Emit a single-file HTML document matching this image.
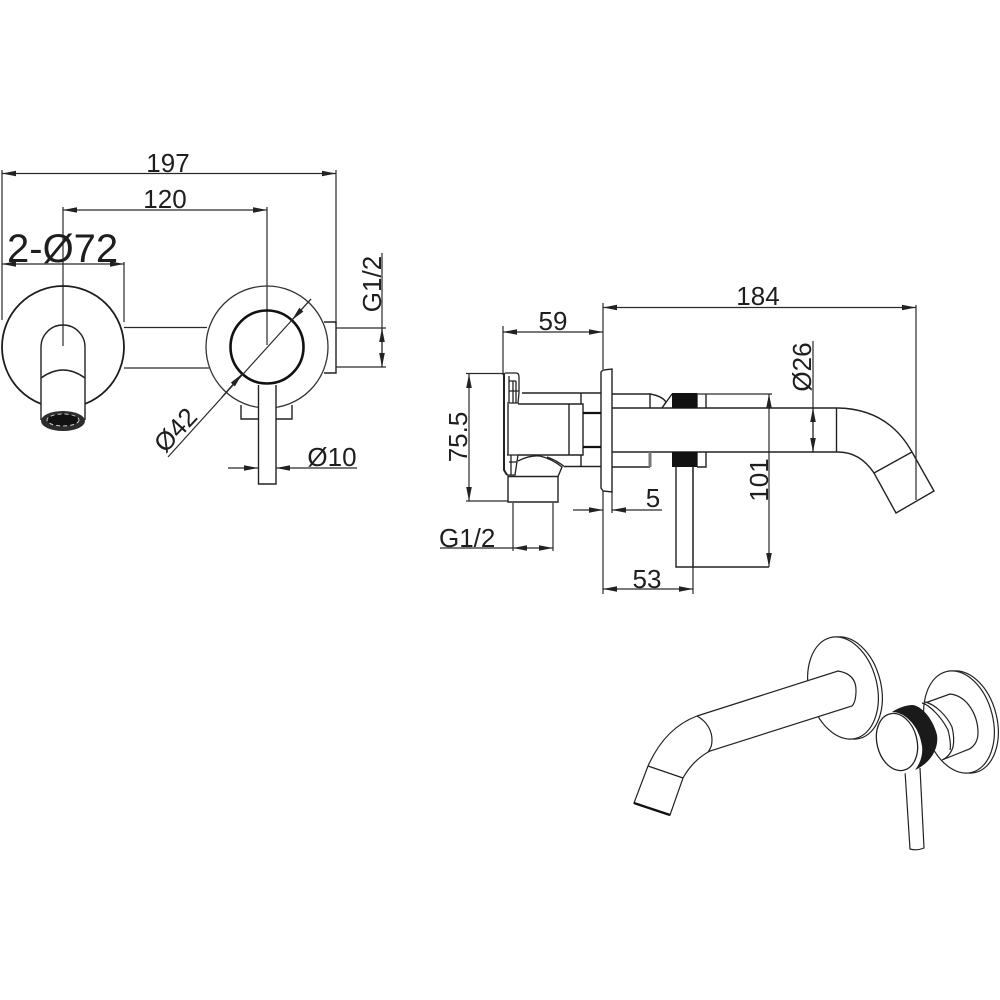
<!DOCTYPE html>
<html><head><meta charset="utf-8"><style>
html,body{margin:0;padding:0;background:#fff}
svg{display:block}
text{font-family:"Liberation Sans",sans-serif;fill:#1e1e1e}
.l{fill:none;stroke:#2a2a2a;stroke-width:1.2}
.m{fill:none;stroke:#222;stroke-width:1.4}
.w{fill:#fff;stroke:#222;stroke-width:1.4}
</style></head><body>
<svg width="1000" height="1000" viewBox="0 0 1000 1000" xmlns="http://www.w3.org/2000/svg">
<defs>
<marker id="a" viewBox="0 0 14 6" refX="14" refY="3" markerWidth="14" markerHeight="6" markerUnits="userSpaceOnUse" orient="auto-start-reverse"><path d="M0 0.2L14 3L0 5.800z" fill="#222"/></marker>
</defs>

<!-- LEFT VIEW -->
<g class="l">
<path d="M2 170V320M336 170V325M63 207V345M267 207V345M124 262V322M382 253V367M336 328H386M336 367H386"/>
<path d="M2 173.500H336" marker-start="url(#a)" marker-end="url(#a)"/>
<path d="M63 210H267" marker-start="url(#a)" marker-end="url(#a)"/>
<path d="M2 264H124" marker-start="url(#a)" marker-end="url(#a)"/>
<path d="M382 328V367" marker-start="url(#a)" marker-end="url(#a)"/>
<path d="M124 327.500H207M124 368H209"/>
</g>
<circle cx="63" cy="347" r="61" fill="none" stroke="#1c1c1c" stroke-width="1.800"/>
<circle cx="267" cy="347" r="61" fill="none" stroke="#333" stroke-width="1.300"/>
<circle cx="267" cy="347" r="36.500" fill="none" stroke="#111" stroke-width="2.600"/>
<path d="M324 322H336V373H324" class="m"/>
<path d="M41 420V347A22 22 0 0 1 85 347V420" class="w"/>
<path d="M63 325V346" class="l"/>
<path d="M41 378Q63 362 85 378" class="m"/>
<ellipse cx="63" cy="421" rx="22" ry="10" fill="#2c2c2c"/>
<ellipse cx="63" cy="420" rx="16" ry="6" fill="#111" stroke="#ccc" stroke-width="1" stroke-dasharray="4 3"/>
<path d="M241 405V419H292V405" class="m"/>
<path d="M258.500 385V484H276V385" class="w"/>
<path d="M168 457L311 299" class="l"/>
<path d="M311 299L292 320" class="l" marker-end="url(#a)"/>
<path d="M222 397L242 374" class="l" marker-end="url(#a)"/>
<path d="M228 468H258" class="l" marker-end="url(#a)"/>
<path d="M357 468H276" class="l" marker-end="url(#a)"/>
<text x="168" y="172" font-size="26" text-anchor="middle">197</text>
<text x="165" y="208" font-size="26" text-anchor="middle">120</text>
<text x="7" y="262" font-size="40">2-Ø72</text>
<text x="332" y="466" font-size="26" text-anchor="middle">Ø10</text>
<text transform="translate(182 436) rotate(-47)" font-size="26" text-anchor="middle">Ø42</text>
<text transform="translate(381 284) rotate(-90)" font-size="26" text-anchor="middle">G1/2</text>

<!-- SIDE VIEW DIMENSIONS -->
<g class="l">
<path d="M503 326V375M603 303V369M603 491V594M916 305V500M612 491V513M693 467V594M513 503V551M553 503V551M466 373.500H505M466 501H508M813 341V452M772 394H697"/>
<path d="M603 307.500H916" marker-start="url(#a)" marker-end="url(#a)"/>
<path d="M503 332H603" marker-start="url(#a)" marker-end="url(#a)"/>
<path d="M469 374V501" marker-start="url(#a)" marker-end="url(#a)"/>
<path d="M769 394V567" marker-start="url(#a)" marker-end="url(#a)"/>
<path d="M813 408V452" marker-start="url(#a)" marker-end="url(#a)"/>
<path d="M603 589H693" marker-start="url(#a)" marker-end="url(#a)"/>
<path d="M573 510H603" marker-end="url(#a)"/>
<path d="M662 510H612" marker-end="url(#a)"/>
<path d="M440 548H513"/>
<path d="M513 548H553" marker-start="url(#a)" marker-end="url(#a)"/>
</g>
<text x="758" y="305" font-size="26" text-anchor="middle">184</text>
<text x="553" y="330" font-size="26" text-anchor="middle">59</text>
<text x="647" y="588" font-size="26" text-anchor="middle">53</text>
<text x="653" y="507" font-size="26" text-anchor="middle">5</text>
<text x="439" y="547" font-size="26">G1/2</text>
<text transform="translate(467 437) rotate(-90)" font-size="26" text-anchor="middle">75.5</text>
<text transform="translate(768 480) rotate(-90)" font-size="26" text-anchor="middle">101</text>
<text transform="translate(811 367) rotate(-90)" font-size="26" text-anchor="middle">Ø26</text>

<!-- SIDE VIEW BODY -->
<g class="m">
<path d="M601 372L603 370L612 369V492L603 491L601 488Z"/>
<path d="M612 408H838M612 452H838M836.500 408V452"/>
<path d="M612 394H650V408M612 467H650"/>
<path d="M650 394Q662 396 666 402L662 408M672 394L662 408M697 394V408M706 394V408"/>
<path d="M697 467H706V452M697 452V467"/>
<path d="M838 408Q888 409 912 452L934 491L896 513L874 473Q860 452 838 452M874 473L912 452"/>
<path d="M676 467V567H769M693 467V567"/>
<path d="M522 393H601M581 393V404M581 455V466.500M565 466.500H601"/>
<path d="M518 404H583V455H518M569 404V455"/>
<path d="M508 476.500H558V502H508Z"/>
<path d="M518 461Q530 455 540 456Q552 459 562 467L558 476.500M547 457Q556 460 565 467"/>
</g>
<path d="M583 413H601M583 447H601" stroke="#111" stroke-width="2.200" fill="none"/>
<rect x="672" y="393" width="25" height="15" fill="#111"/>
<rect x="672" y="452" width="25" height="15" fill="#111"/>
<path d="M650 452V467" stroke="#777" stroke-width="3" fill="none"/>
<g class="m" style="stroke-width:1.300">
<path d="M505 373H516Q519 373 519 377V393L518 403H507M507 455H518L515 475H507"/>
<path d="M509 376V403M513 381V403M516 381V403M509 381H516M509 391H519M509 462H517M511 455V475"/>
</g>
<path d="M504 374V470L507 475" stroke="#222" stroke-width="2" fill="none"/>
<path d="M508 404V455" stroke="#222" stroke-width="1.400" fill="none"/>

<!-- PERSPECTIVE -->
<g class="m" style="stroke-width:1.200">
<ellipse cx="847" cy="688" rx="34" ry="52" transform="rotate(-14 847 688)" fill="#fff"/>
<ellipse cx="843" cy="688" rx="34" ry="52" transform="rotate(-14 843 688)" fill="#fff"/>
<path d="M697 716L838 671Q856 674 856 690Q856 702 852 706L710 751Q693 760 683 778L670 815L634 803L648 766Q665 728 697 716Z" fill="#fff"/>
<path d="M697 716C708 722 712 732 712 740C712 745 711 748 708 752M648 766L683 778"/>
<ellipse cx="963" cy="722" rx="34" ry="52" transform="rotate(-14 963 722)" fill="#fff"/>
<ellipse cx="959" cy="722" rx="34" ry="52" transform="rotate(-14 959 722)" fill="#fff"/>
<path d="M925 703L950 694C968 696 978 716 978 733C978 742 973 748 967 750L942 760" fill="#fff"/>
<path d="M925 702C935 704 947 716 952 727C954 735 954 742 953 747C951 753 947 758 942 760" fill="#fff"/>
<path d="M922 703C930 705 942 718 948 730C950 738 951 745 950 750"/>
</g>
<path d="M905 771L910 849Q917 851 924 848L920 768" class="w" style="stroke-width:1.200"/>
<path d="M634 803L670 815" stroke="#111" stroke-width="2.400" fill="none"/>
<path d="M892 712L913 705C922 706 934 722 937 735C939 747 932 762 915 770L900 775L880 745Z" fill="#fff"/>
<path d="M892 712C898 708 906 705 913 705C924 707 934 722 937 735C939 748 931 763 915 770C921 762 923 754 922 746C920 733 914 722 903 715C899 713 896 712 892 712Z" fill="#1a1a1a"/>
<ellipse cx="897" cy="742" rx="20" ry="29" transform="rotate(-14 897 742)" fill="#fff" stroke="#222" stroke-width="1.300"/>
</svg>
</body></html>
